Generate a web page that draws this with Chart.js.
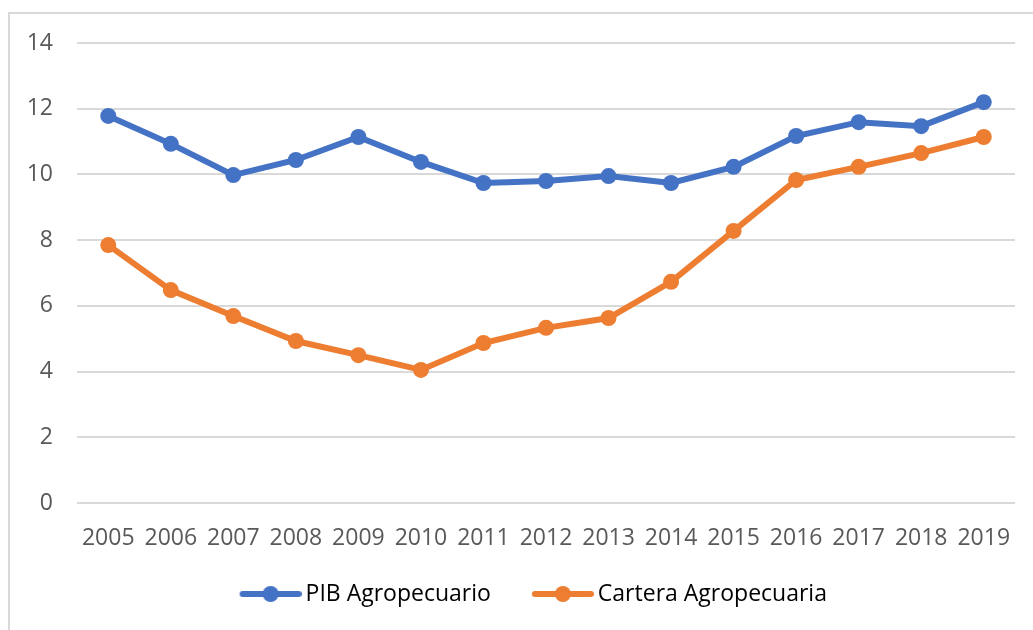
<!DOCTYPE html>
<html>
<head>
<meta charset="utf-8">
<script src="https://cdn.jsdelivr.net/npm/chart.js@4.4.0/dist/chart.umd.min.js"></script>
<style>
  html, body { margin: 0; padding: 0; background: #fff; }
  #marco { position: absolute; left: 8px; top: 12px; width: 1100px; height: 700px;
           border: 2px solid #d9d9d9; box-sizing: border-box; }
  #wrap { position: absolute; left: 0; top: 0; width: 1033px; height: 630px; }
</style>
</head>
<body>
<div id="marco"></div>
<div id="wrap"><canvas id="grafico"></canvas></div>
<script>
const anios = ['2005', '2006', '2007', '2008', '2009', '2010', '2011', '2012',
               '2013', '2014', '2015', '2016', '2017', '2018', '2019'];
const pibAgro = [11.78, 10.93, 9.98, 10.44, 11.14, 10.38, 9.74, 9.80,
                 9.95, 9.74, 10.23, 11.17, 11.59, 11.47, 12.20];
const carteraAgro = [7.85, 6.48, 5.69, 4.93, 4.50, 4.05, 4.87, 5.33,
                     5.63, 6.73, 8.28, 9.83, 10.23, 10.65, 11.14];
const marcasY = [0, 2, 4, 6, 8, 10, 12, 14];

const AZUL = '#4472c4';
const NARANJA = '#ed7d31';
const GRIS_TEXTO = '#595959';
const fuente = { family: '"Open Sans", Lato, sans-serif', size: 23 };

// icono de leyenda: linea con marcador circular, corrido a la derecha
// dentro del lienzo para dejar mas aire entre las entradas
function iconoLeyenda(color) {
  const c = document.createElement('canvas');
  c.width = 79; c.height = 20;
  const g = c.getContext('2d');
  g.strokeStyle = color;
  g.lineWidth = 6;
  g.lineCap = 'round';
  g.beginPath();
  g.moveTo(20, 10); g.lineTo(76, 10);
  g.stroke();
  g.fillStyle = color;
  g.beginPath();
  g.arc(48, 10, 8, 0, Math.PI * 2);
  g.fill();
  return c;
}
const iconos = [iconoLeyenda(AZUL), iconoLeyenda(NARANJA)];

// corre la leyenda un poco a la derecha
const moverLeyenda = {
  id: 'moverLeyenda',
  afterLayout(chart) {
    const l = chart.legend;
    if (l) { l.left += 21; l.right += 21; }
  }
};

const serie = (label, data, color) => ({
  label, data,
  borderColor: color,
  backgroundColor: color,
  borderWidth: 6,
  pointRadius: 8,
  pointHoverRadius: 8,
  pointBorderWidth: 0,
  tension: 0
});

new Chart(document.getElementById('grafico'), {
  type: 'line',
  data: {
    labels: anios,
    datasets: [
      serie('PIB Agropecuario', pibAgro, AZUL),
      serie('Cartera Agropecuaria', carteraAgro, NARANJA)
    ]
  },
  plugins: [moverLeyenda],
  options: {
    responsive: true,
    maintainAspectRatio: false,
    animation: false,
    layout: { padding: { left: 0, top: 43, right: 18, bottom: 14.5 } },
    scales: {
      x: {
        offset: true,
        afterFit: s => { s.height = 48; },
        grid: { display: false, drawTicks: false },
        border: { display: false },
        ticks: { color: GRIS_TEXTO, font: fuente, padding: 22, maxRotation: 0, autoSkip: false }
      },
      y: {
        min: 0, max: 14,
        afterBuildTicks: s => { s.ticks = marcasY.map(v => ({ value: v })); },
        afterFit: s => { s.width = 77; },
        grid: { color: '#d9d9d9', lineWidth: 2, drawTicks: false },
        border: { display: false },
        ticks: { color: GRIS_TEXTO, font: fuente, padding: 24 }
      }
    },
    plugins: {
      tooltip: { enabled: false },
      legend: {
        position: 'bottom',
        labels: {
          color: GRIS_TEXTO,
          font: fuente,
          usePointStyle: true,
          pointStyleWidth: 64,
          boxHeight: 20,
          padding: 31.5,
          generateLabels: chart => chart.data.datasets.map((d, i) => ({
            text: d.label,
            fillStyle: d.borderColor,
            strokeStyle: d.borderColor,
            pointStyle: iconos[i],
            datasetIndex: i,
            hidden: false,
            lineWidth: 0
          }))
        }
      }
    }
  }
});
</script>
</body>
</html>
